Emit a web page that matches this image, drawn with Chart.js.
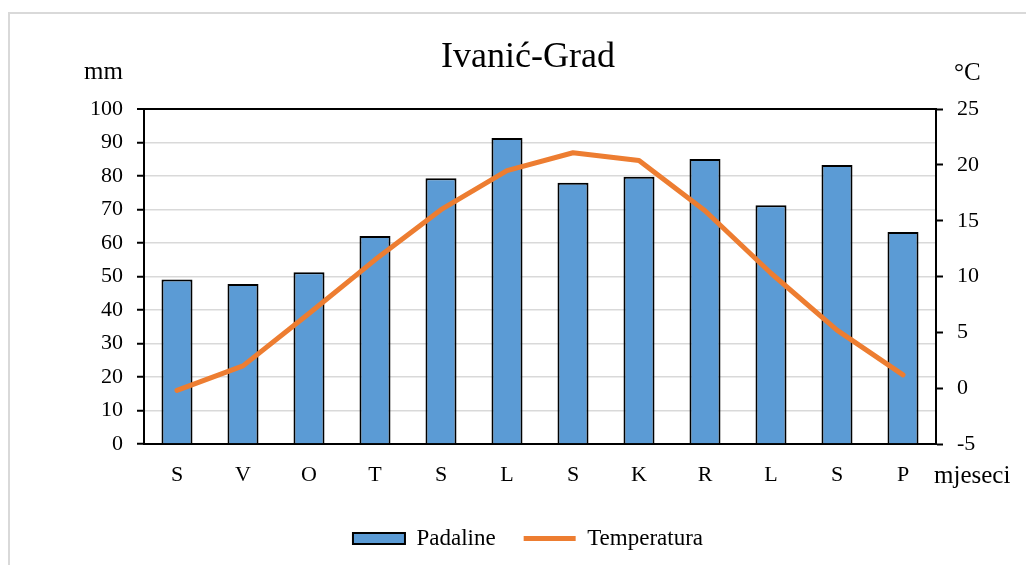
<!DOCTYPE html>
<html>
<head>
<meta charset="utf-8">
<script src="https://cdn.jsdelivr.net/npm/chart.js@4.4.1/dist/chart.umd.min.js"></script>
<style>
  body { margin: 0; background: #fff; }
  #wrap { position: relative; width: 1026px; height: 565px; }
</style>
</head>
<body>
<div id="wrap"><canvas id="klima" width="1026" height="565"></canvas></div>
<script>
// podaci - Ivanic-Grad
const mjeseci = ["S", "V", "O", "T", "S", "L", "S", "K", "R", "L", "S", "P"]
const padaline = [49.1, 47.8, 51.3, 62.1, 79.4, 91.4, 78.0, 79.8, 85.1, 71.3, 83.3, 63.3]
const temperatura = [-0.2, 2.0, 6.7, 11.5, 16.0, 19.5, 21.1, 20.4, 15.9, 10.3, 5.2, 1.2]

const SERIF = "'Liberation Serif', 'Times New Roman', serif"
const PLAVA = "#5b9bd5"
const NARANCASTA = "#ed7d31"
const SIVA = "#d9d9d9"

// okvir i natpisi jedinica (mm, °C, mjeseci)
const natpisi = {
    id: "natpisi",
    beforeDraw(chart) {
        const ctx = chart.ctx
        ctx.save()
        ctx.strokeStyle = SIVA
        ctx.lineWidth = 2
        ctx.beginPath()
        ctx.moveTo(9, chart.height)
        ctx.lineTo(9, 13)
        ctx.lineTo(chart.width, 13)
        ctx.stroke()
        ctx.restore()
    },
    afterDraw(chart) {
        const ctx = chart.ctx
        const a = chart.chartArea
        ctx.save()
        ctx.fillStyle = "#000"
        ctx.font = "25px " + SERIF
        ctx.textBaseline = "alphabetic"
        ctx.textAlign = "right"
        ctx.fillText("mm", a.left - 21, a.top - 30)
        ctx.textAlign = "left"
        ctx.fillText("°C", a.right + 18, a.top - 29)
        ctx.fillText("mjeseci", a.right - 2, a.bottom + 39)
        ctx.restore()
    }
}

const el = document.getElementById("klima")
new Chart(el, {
    type: "bar",
    data: {
        labels: mjeseci,
        datasets: [{
            label: "Padaline",
            data: padaline,
            yAxisID: "y",
            backgroundColor: PLAVA,
            borderColor: "#000",
            borderWidth: 2,
            barPercentage: 0.47,
            categoryPercentage: 1.0,
            order: 1
        }, {
            type: "line",
            label: "Temperatura",
            data: temperatura,
            yAxisID: "y2",
            borderColor: NARANCASTA,
            backgroundColor: NARANCASTA,
            borderWidth: 5,
            borderCapStyle: "round",
            borderJoinStyle: "round",
            pointRadius: 0,
            tension: 0,
            order: 0
        }]
    },
    options: {
        responsive: false,
        animation: false,
        layout: { padding: { left: 30, right: 0, top: 0, bottom: 5 } },
        plugins: {
            tooltip: { enabled: false },
            title: {
                display: true,
                text: "Ivanić-Grad",
                color: "#000",
                font: { family: SERIF, size: 36, weight: "normal" },
                padding: { top: 36, bottom: 30 }
            },
            legend: {
                position: "bottom",
                labels: {
                    color: "#000",
                    font: { family: SERIF, size: 23 },
                    usePointStyle: true,
                    pointStyleWidth: 52,
                    boxWidth: 52,
                    boxHeight: 11,
                    padding: 28,
                    sort: (a, b) => a.datasetIndex - b.datasetIndex,
                    generateLabels: chart => {
                        const items = Chart.defaults.plugins.legend.labels.generateLabels(chart)
                        items.forEach(it => {
                            if (it.datasetIndex === 1) {
                                it.pointStyle = "line"
                                it.lineWidth = 5
                                it.strokeStyle = NARANCASTA
                            } else {
                                it.pointStyle = "rect"
                                it.lineWidth = 2
                                it.strokeStyle = "#000"
                                it.fillStyle = PLAVA
                            }
                        })
                        return items
                    }
                }
            }
        },
        scales: {
            x: {
                grid: { display: true, drawOnChartArea: false, drawTicks: false },
                border: { display: true, color: "#000", width: 2 },
                ticks: { color: "#000", padding: 18, font: { family: SERIF, size: 22 } },
                afterFit: s => { s.height = 55 }
            },
            y: {
                position: "left",
                min: 0,
                max: 100,
                ticks: { stepSize: 10, color: "#000", padding: 14, font: { family: SERIF, size: 22 } },
                grid: {
                    color: c => c.tick && c.tick.value === 100 ? "#000" : SIVA,
                    lineWidth: c => c.tick && c.tick.value === 100 ? 2 : 1.5,
                    tickColor: "#000",
                    tickWidth: 2,
                    tickLength: 7
                },
                border: { color: "#000", width: 2 },
                afterFit: s => { s.width = 114 }
            },
            y2: {
                position: "right",
                min: -5,
                max: 25,
                ticks: { stepSize: 5, color: "#000", padding: 14, font: { family: SERIF, size: 22 } },
                grid: {
                    drawOnChartArea: false,
                    tickColor: "#000",
                    tickWidth: 2,
                    tickLength: 7
                },
                border: { color: "#000", width: 2 },
                afterFit: s => { s.width = 90 }
            }
        }
    },
    plugins: [natpisi]
})
</script>
</body>
</html>
